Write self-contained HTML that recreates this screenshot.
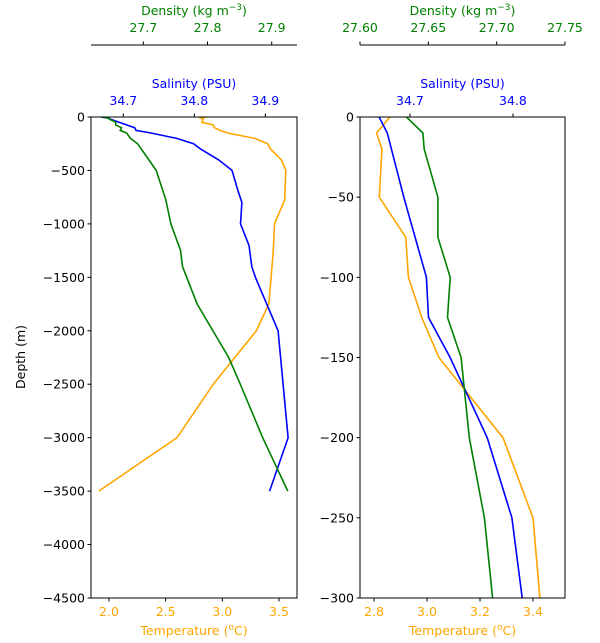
<!DOCTYPE html>
<html><head><meta charset="utf-8">
<style>
html,body{margin:0;padding:0;background:#fff;width:600px;height:643px;overflow:hidden;}
svg{display:block;font-family:"DejaVu Sans","Liberation Sans",sans-serif;overflow:hidden;}
</style></head>
<body>
<svg id="chart" width="600" height="643" viewBox="0 0 600 643" xmlns="http://www.w3.org/2000/svg"></svg>
<script>
const tempDepth=[0,10,20,50,75,100,125,150,200,250,300,400,500,775,1000,1250,1500,1750,2000,2500,3000,3500];
const tempVals=[2.86,2.81,2.83,2.82,2.92,2.93,2.98,3.045,3.287,3.40,3.426,3.52,3.56,3.55,3.46,3.45,3.43,3.41,3.30,2.92,2.60,1.91];
const salDepth=[0,10,50,100,125,150,200,250,300,400,500,700,800,1000,1200,1400,1500,2000,3000,3500];
const salVals=[34.670,34.678,34.694,34.716,34.718,34.739,34.775,34.799,34.809,34.834,34.853,34.862,34.867,34.865,34.877,34.881,34.886,34.918,34.932,34.906];
const denDepth=[0,10,20,50,75,100,125,150,200,250,300,500,775,1000,1250,1400,1750,2250,2500,3000,3500];
const denVals=[27.634,27.646,27.647,27.657,27.657,27.666,27.664,27.674,27.680,27.691,27.697,27.720,27.735,27.743,27.758,27.761,27.784,27.833,27.851,27.886,27.925];
const leftDepthTicks=[0,-500,-1000,-1500,-2000,-2500,-3000,-3500,-4000,-4500];
const rightDepthTicks=[0,-50,-100,-150,-200,-250,-300];
const leftTempTicks=["2.0","2.5","3.0","3.5"];
const rightTempTicks=["2.8","3.0","3.2","3.4"];
const leftSalTicks=["34.7","34.8","34.9"];
const rightSalTicks=["34.7","34.8"];
const leftDenTicks=["27.7","27.8","27.9"];
const rightDenTicks=["27.60","27.65","27.70","27.75"];

const svg=document.getElementById('chart');
const NS="http://www.w3.org/2000/svg";
function mk(tag,attrs,parent){const e=document.createElementNS(NS,tag);for(const k in attrs)e.setAttribute(k,attrs[k]);(parent||svg).appendChild(e);return e;}
function lin(d0,d1,r0,r1){return v=>r0+(v-d0)*(r1-r0)/(d1-d0);}

const panels=[
 {name:'left',x0:91,x1:297,dmax:4500,tD:[1.8412,3.6588],sD:[34.6545,34.9446],dD:[27.6185,27.9394],
  dTicks:leftDepthTicks,tTicks:leftTempTicks,sTicks:leftSalTicks,dnTicks:leftDenTicks,ylabel:true},
 {name:'right',x0:360,x1:565,dmax:300,tD:[2.7472,3.5208],sD:[34.6515,34.8505],dD:[27.60,27.75],
  dTicks:rightDepthTicks,tTicks:rightTempTicks,sTicks:rightSalTicks,dnTicks:rightDenTicks,ylabel:false}
];
const Y0=117,Y1=598;
panels.forEach((p,i)=>{
 const g=mk('g',{});
 
 
 const y=lin(0,-p.dmax,Y0,Y1);
 const xt=lin(p.tD[0],p.tD[1],p.x0,p.x1);
 const xs=lin(p.sD[0],p.sD[1],p.x0,p.x1);
 const xd=lin(p.dD[0],p.dD[1],p.x0,p.x1);
 const cid='clip'+i;
 const cp=mk('clipPath',{id:cid},g);mk('rect',{x:p.x0,y:Y0,width:p.x1-p.x0,height:Y1-Y0},cp);
 function series(depths,vals,sx,color,nm){
  const pts=depths.map((d,k)=>sx(vals[k]).toFixed(1)+','+y(-d).toFixed(1)).join(' ');
  const pl=mk('polyline',{points:pts,fill:'none',stroke:color,'stroke-width':1.6,'clip-path':'url(#'+cid+')'},g);
  
  
 }
 series(tempDepth,tempVals,xt,'orange','temperature');
 series(salDepth,salVals,xs,'blue','salinity');
 series(denDepth,denVals,xd,'green','density');
 const fr=mk('rect',{x:p.x0,y:Y0,width:p.x1-p.x0,height:Y1-Y0,fill:'none',stroke:'#000','stroke-width':1},g);
 
 
 p.dTicks.forEach(v=>{
  const yy=y(v);
  mk('line',{x1:p.x0-3.5,x2:p.x0,y1:yy,y2:yy,stroke:'#000'},g);
  const t=mk('text',{x:p.x0-6,y:yy+4.5,'text-anchor':'end','font-size':12.5,fill:'#000'},g);
  t.textContent=v===0?'0':'\u2212'+Math.abs(v);
  
  
 });
 p.tTicks.forEach(s=>{
  const xx=xt(parseFloat(s));
  mk('line',{x1:xx,x2:xx,y1:Y1,y2:Y1+3.5,stroke:'#000'},g);
  const t=mk('text',{x:xx,y:Y1+18,'text-anchor':'middle','font-size':12.5,fill:'orange'},g);
  t.textContent=s;
  
  
 });
 const tt=mk('text',{x:(p.x0+p.x1)/2,y:635,'text-anchor':'middle','font-size':12.5,fill:'orange'},g);
 tt.innerHTML='Temperature (<tspan dy="-5" font-size="9">o</tspan><tspan dy="5">C)</tspan>';
 
 
 p.sTicks.forEach(s=>{
  const xx=xs(parseFloat(s));
  mk('line',{x1:xx,x2:xx,y1:Y0,y2:Y0-3.5,stroke:'#000'},g);
  const t=mk('text',{x:xx,y:105,'text-anchor':'middle','font-size':12.5,fill:'blue'},g);
  t.textContent=s;
  
  
 });
 const st=mk('text',{x:(p.x0+p.x1)/2,y:88,'text-anchor':'middle','font-size':12.5,fill:'blue'},g);
 st.textContent='Salinity (PSU)';
 
 
 mk('line',{x1:p.x0,x2:p.x1,y1:45,y2:45,stroke:'#000'},g);
 p.dnTicks.forEach(s=>{
  const xx=xd(parseFloat(s));
  mk('line',{x1:xx,x2:xx,y1:45,y2:41.5,stroke:'#000'},g);
  const t=mk('text',{x:xx,y:32,'text-anchor':'middle','font-size':12.5,fill:'green'},g);
  t.textContent=s;
  
  
 });
 const dt=mk('text',{x:(p.x0+p.x1)/2,y:15,'text-anchor':'middle','font-size':12.5,fill:'green'},g);
 dt.innerHTML='Density (kg m<tspan dy="-5" font-size="9">\u22123</tspan><tspan dy="5">)</tspan>';
 
 
 if(p.ylabel){
  const yl=mk('text',{x:0,y:0,'text-anchor':'middle','font-size':12.5,fill:'#000',transform:'translate(25,357) rotate(-90)'},g);
  yl.textContent='Depth (m)';
  
  
 }
});
</script>
</body></html>
